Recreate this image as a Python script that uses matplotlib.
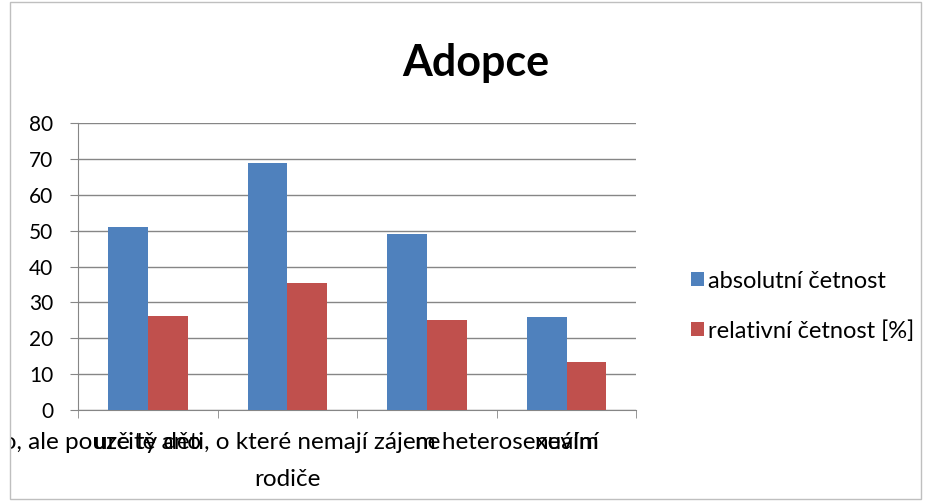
import numpy as np
import matplotlib.pyplot as plt
from matplotlib.patches import Rectangle

plt.rcParams['font.family'] = ['Lato', 'DejaVu Sans']

categories = ['určitě ano',
              'ano, ale pouze ty děti, o které nemají zájem heterosexuální\nrodiče',
              'ne', 'nevím']
absolutni = [51, 69, 49, 26]
relativni = [26.2, 35.4, 25.1, 13.3]
series_names = ['absolutní četnost', 'relativní četnost [%]']

fig = plt.figure(figsize=(9.29, 5.01), dpi=100)
ax = fig.add_axes([0.084, 0.182, 0.601, 0.572])

x = np.arange(len(categories))
w = 0.285
ax.bar(x - w / 2, absolutni, w, color='#4F81BD', label=series_names[0], zorder=3)
ax.bar(x + w / 2, relativni, w, color='#C0504D', label=series_names[1], zorder=3)

ax.set_xlim(-0.5, len(categories) - 0.5)
ax.set_ylim(0, 80)
ax.set_yticks(range(0, 81, 10))
ax.yaxis.grid(True, color='#868686', linewidth=1, zorder=0)
ax.set_axisbelow(True)

# category labels in the middle, tick marks on the boundaries
ax.set_xticks(x)
ax.set_xticklabels(categories, fontsize=17.5, linespacing=1.95)
ax.set_xticks(np.arange(-0.5, len(categories)), minor=True)
ax.tick_params(axis='x', which='major', length=0, pad=16)
ax.tick_params(axis='x', which='minor', length=6, color='#868686')
ax.tick_params(axis='y', length=6, color='#868686', labelsize=15, pad=12)

for s in ['top', 'right']:
    ax.spines[s].set_visible(False)
for s in ['left', 'bottom']:
    ax.spines[s].set_color('#868686')

fig.text(0.512, 0.874, 'Adopce', fontsize=31, fontweight='bold', ha='center', va='center')

leg = ax.legend(loc='center left', bbox_to_anchor=(1.06, 0.362), frameon=False,
                fontsize=17, handlelength=0.55, handleheight=0.55,
                handletextpad=0.15, labelspacing=1.2)

frame = Rectangle((0.011, 0.004), 0.98, 0.992, transform=fig.transFigure,
                  fill=False, edgecolor='#BFBFBF', linewidth=1)
fig.patches.append(frame)
for lab in ax.get_xticklabels():
    lab.set_clip_path(frame)

fig.savefig('out.png', dpi=100)
